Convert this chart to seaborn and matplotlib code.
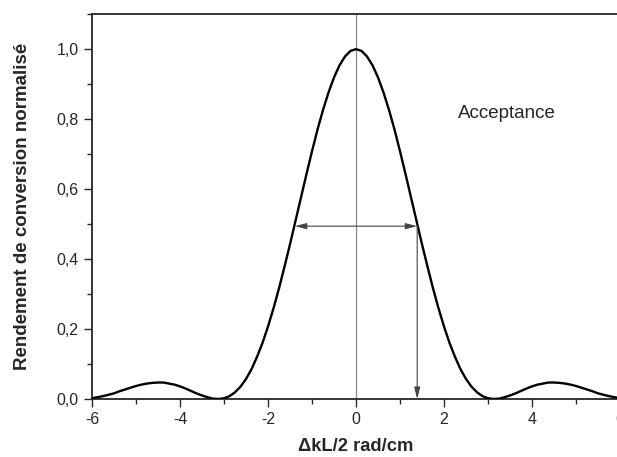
import matplotlib
matplotlib.use("Agg")
import matplotlib.pyplot as plt
import seaborn as sns
import pandas as pd
from matplotlib.ticker import MultipleLocator, FuncFormatter

# courbe (pas de 0,125)
dk = [-6.0, -5.875, -5.75, -5.625, -5.5, -5.375, -5.25, -5.125, -5.0, -4.875, -4.75, -4.625,
      -4.5, -4.375, -4.25, -4.125, -4.0, -3.875, -3.75, -3.625, -3.5, -3.375, -3.25, -3.125,
      -3.0, -2.875, -2.75, -2.625, -2.5, -2.375, -2.25, -2.125, -2.0, -1.875, -1.75, -1.625,
      -1.5, -1.375, -1.25, -1.125, -1.0, -0.875, -0.75, -0.625, -0.5, -0.375, -0.25, -0.125,
      0.0, 0.125, 0.25, 0.375, 0.5, 0.625, 0.75, 0.875, 1.0, 1.125, 1.25, 1.375,
      1.5, 1.625, 1.75, 1.875, 2.0, 2.125, 2.25, 2.375, 2.5, 2.625, 2.75, 2.875,
      3.0, 3.125, 3.25, 3.375, 3.5, 3.625, 3.75, 3.875, 4.0, 4.125, 4.25, 4.375,
      4.5, 4.625, 4.75, 4.875, 5.0, 5.125, 5.25, 5.375, 5.5, 5.625, 5.75, 5.875, 6.0]
rendement = [0.002, 0.005, 0.008, 0.012, 0.016, 0.022, 0.027, 0.032, 0.037, 0.041, 0.044, 0.046,
             0.047, 0.047, 0.044, 0.041, 0.036, 0.030, 0.023, 0.016, 0.010, 0.005, 0.001, 0.000,
             0.002, 0.008, 0.019, 0.035, 0.057, 0.085, 0.120, 0.160, 0.207, 0.259, 0.316, 0.378,
             0.442, 0.509, 0.576, 0.643, 0.708, 0.770, 0.826, 0.876, 0.919, 0.954, 0.979, 0.995,
             1.000, 0.995, 0.979, 0.954, 0.919, 0.876, 0.826, 0.770, 0.708, 0.643, 0.576, 0.509,
             0.442, 0.378, 0.316, 0.259, 0.207, 0.160, 0.120, 0.085, 0.057, 0.035, 0.019, 0.008,
             0.002, 0.000, 0.001, 0.005, 0.010, 0.016, 0.023, 0.030, 0.036, 0.041, 0.044, 0.047,
             0.047, 0.046, 0.044, 0.041, 0.037, 0.032, 0.027, 0.022, 0.016, 0.012, 0.008, 0.005, 0.002]

# largeur a mi-hauteur
demi_largeur = 1.39
mi_hauteur = 0.494

df = pd.DataFrame({"dk": dk, "r": rendement})

sns.set_style("ticks")
plt.rcParams['font.family'] = ['Liberation Sans', 'DejaVu Sans']
plt.rcParams['axes.unicode_minus'] = False

fig = plt.figure(figsize=(6.17, 4.57), dpi=100)
ax = fig.add_axes([0.149, 0.127, 0.856, 0.842])

ax.axvline(0, color="#888888", lw=0.9, zorder=1)
sns.lineplot(data=df, x="dk", y="r", color="black", lw=1.7, ax=ax, zorder=3)

ax.annotate("", xy=(-demi_largeur, mi_hauteur), xytext=(demi_largeur, mi_hauteur),
            arrowprops=dict(arrowstyle="<|-|>,head_length=0.7,head_width=0.18",
                            color="#444444", lw=0.8, shrinkA=0, shrinkB=0))
ax.annotate("", xy=(demi_largeur, 0), xytext=(demi_largeur, mi_hauteur),
            arrowprops=dict(arrowstyle="-|>,head_length=0.7,head_width=0.18",
                            color="#444444", lw=0.8, shrinkA=0, shrinkB=0))

ax.text(2.32, 0.817, "Acceptance", fontsize=13.5, va="center", ha="left")

ax.set_xlim(-6, 6)
ax.set_ylim(0, 1.1)
ax.xaxis.set_major_locator(MultipleLocator(2))
ax.xaxis.set_minor_locator(MultipleLocator(1))
ax.yaxis.set_major_locator(MultipleLocator(0.2))
ax.yaxis.set_minor_locator(MultipleLocator(0.1))
ax.yaxis.set_major_formatter(FuncFormatter(lambda v, p: f"{v:.1f}".replace(".", ",")))
ax.tick_params(which="major", direction="out", length=6, width=1, labelsize=11.5)
ax.tick_params(which="minor", direction="out", length=3.5, width=1)
ax.tick_params(top=False, right=False, which="both")

for s in ax.spines.values():
    s.set_linewidth(1.3)

ax.set_xlabel("ΔkL/2 rad/cm", fontsize=13.2, fontweight="bold", labelpad=8)
ax.set_ylabel("Rendement de conversion normalisé", fontsize=13.5, fontweight="bold", labelpad=18)

fig.savefig("out.png", dpi=100)
